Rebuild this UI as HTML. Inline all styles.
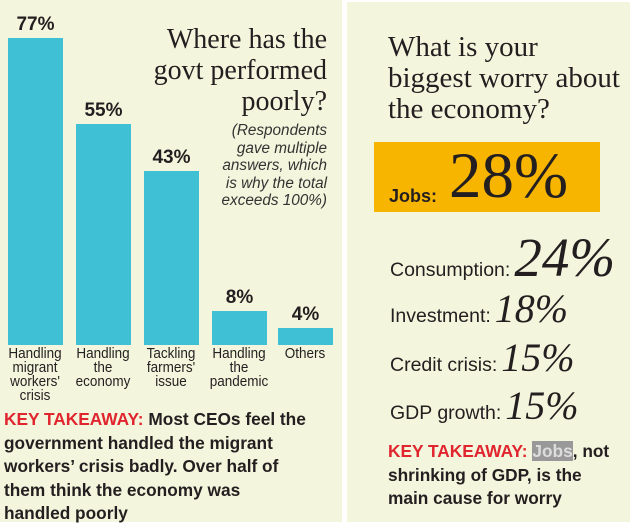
<!DOCTYPE html>
<html><head><style>
body{margin:0;width:630px;height:522px;background:#fff;position:relative;overflow:hidden;font-family:"Liberation Sans",sans-serif;color:#231f20}
.p{position:absolute;background:#f3f5dc}
.a{position:absolute;white-space:nowrap}
.bar{position:absolute;background:#40c0d4;bottom:177px;width:55px}
.v{position:absolute;font-weight:bold;font-size:19px;text-align:center;width:55px}
.c{position:absolute;top:347px;width:70px;text-align:center;font-size:15px;line-height:14px;transform:scaleX(.9)}
.serif{font-family:"Liberation Serif",serif}
.kt{position:absolute;font-weight:bold;font-size:17.3px;line-height:23.5px;white-space:nowrap}
.r{color:#e0252f}
.row{position:absolute;left:390px;white-space:nowrap;display:flex;align-items:baseline}
.lab{font-size:19.5px}
.num{font-family:"Liberation Serif",serif;font-style:italic;margin-left:4px}
</style></head><body>
<div class="p" style="left:0;top:0;width:342px;height:522px"></div>
<div class="p" style="left:347px;top:2px;width:283px;height:520px"></div>

<div class="bar" style="left:8px;top:38px"></div>
<div class="bar" style="left:76px;top:124px"></div>
<div class="bar" style="left:144px;top:171px"></div>
<div class="bar" style="left:212px;top:311px"></div>
<div class="bar" style="left:278px;top:328px"></div>
<div class="v" style="left:8px;top:14px">77%</div>
<div class="v" style="left:76px;top:100px">55%</div>
<div class="v" style="left:144px;top:147px">43%</div>
<div class="v" style="left:212px;top:287px">8%</div>
<div class="v" style="left:278px;top:304px">4%</div>
<div class="c" style="left:0px">Handling<br>migrant<br>workers'<br>crisis</div>
<div class="c" style="left:68px">Handling<br>the<br>economy</div>
<div class="c" style="left:136px">Tackling<br>farmers'<br>issue</div>
<div class="c" style="left:204px">Handling<br>the<br>pandemic</div>
<div class="c" style="left:270px">Others</div>

<div class="a serif" style="right:303px;top:24px;font-size:28px;line-height:31px;text-align:right">Where has the<br>govt performed<br>poorly?</div>
<div class="a" style="right:303px;top:122px;font-size:15.3px;line-height:17.5px;font-style:italic;text-align:right;color:#333">(Respondents<br>gave multiple<br>answers, which<br>is why the total<br>exceeds 100%)</div>

<div class="kt" style="left:4px;top:408px"><span class="r">KEY TAKEAWAY:</span> Most CEOs feel the<br>government handled the migrant<br>workers’ crisis badly. Over half of<br>them think the economy was<br>handled poorly</div>

<div class="a serif" style="left:388px;top:32px;font-size:29px;line-height:31px">What is your<br>biggest worry about<br>the economy?</div>
<div class="a" style="left:374px;top:142px;width:226px;height:70px;background:#f7b500"></div>
<div class="a" style="left:389px;top:186px;font-weight:bold;font-size:18px">Jobs:</div>
<div class="a serif" style="left:449px;top:139px;font-size:65px;line-height:74px">28%</div>
<div class="row" style="top:226px"><span class="lab">Consumption:</span><span class="num" style="font-size:55px">24%</span></div>
<div class="row" style="top:285px"><span class="lab">Investment:</span><span class="num" style="font-size:40px">18%</span></div>
<div class="row" style="top:334px"><span class="lab">Credit crisis:</span><span class="num" style="font-size:40px">15%</span></div>
<div class="row" style="top:382px"><span class="lab">GDP growth:</span><span class="num" style="font-size:40px">15%</span></div>
<div class="kt" style="left:388px;top:440px">
<span class="r">KEY TAKEAWAY:</span> <span style="background:#999;color:#ddd">Jobs</span>, not<br>shrinking of GDP, is the<br>main cause for worry</div>
</body></html>
